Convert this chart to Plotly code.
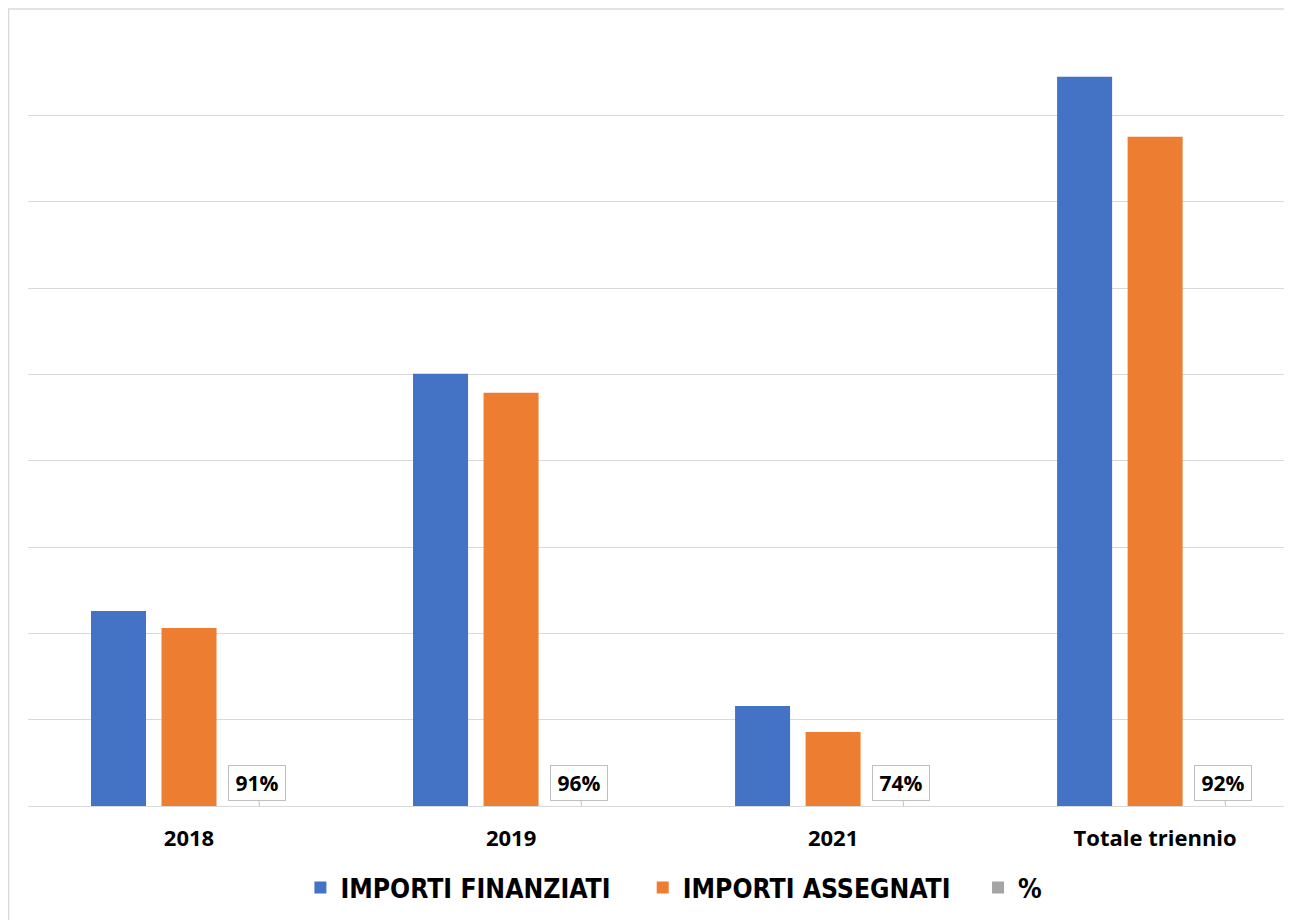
import plotly.graph_objects as go

categories = ["2018", "2019", "2021", "Totale triennio"]
importi_finanziati = [226000, 500600, 115900, 844700]
importi_assegnati = [206300, 478600, 85700, 775200]
percentuali = [0.91, 0.96, 0.74, 0.92]
series_names = ["IMPORTI FINANZIATI", "IMPORTI ASSEGNATI", "%"]
colors = ["#4472C4", "#ED7D31", "#A5A5A5"]

# page body has an 8px margin, so the figure is offset by 8px
W, H = 1284, 912
ML, MR, MT, MB = 20, 0, 21, 114
x_range = [-0.5, 3.425]
bargap = 0.343
bargroupgap = 0.22

plot_w = W - ML - MR
plot_h = H - MT - MB
cat_px = plot_w / (x_range[1] - x_range[0])
slot_px = cat_px * (1 - bargap) / 3

pads = ["\u00a0" * 3 + "\u2009", "\u00a0" * 3, ""]
fig = go.Figure()
for name, vals, col, pad in zip(series_names, [importi_finanziati, importi_assegnati, percentuali], colors, pads):
    fig.add_trace(go.Bar(x=categories, y=vals, name=f"<b>{name}</b>{pad}",
                         marker=dict(color=col, line=dict(width=0))))

for i, (c, p) in enumerate(zip(categories, percentuali)):
    fig.add_annotation(
        x=i, y=p, xref="x", yref="y",
        text=f"<b>{round(p * 100)}%</b>",
        showarrow=True, arrowhead=0, arrowwidth=1, arrowcolor="#bfbfbf",
        ax=-3, ay=-23, standoff=0,
        xshift=slot_px,
        font=dict(family="Open Sans", size=21, color="#000000"),
        bgcolor="#ffffff", bordercolor="#bfbfbf", borderwidth=1, borderpad=3,
        width=50,
    )

fig.add_shape(type="rect", xref="paper", yref="paper",
              x0=-ML / plot_w + 0.5 / plot_w, x1=1.05, y0=-0.3, y1=(plot_h + MT - 1) / plot_h,
              line=dict(color="#d9d9d9", width=1.5), fillcolor="rgba(0,0,0,0)", layer="below")

fig.update_layout(
    width=W, height=H,
    margin=dict(l=ML, r=MR, t=MT, b=MB),
    paper_bgcolor="#ffffff", plot_bgcolor="#ffffff",
    barmode="group", bargap=bargap, bargroupgap=bargroupgap,
    showlegend=True,
    legend=dict(orientation="h", x=0.511, xanchor="center", y=-0.1055, yanchor="middle",
                font=dict(family="Liberation Sans Narrow, DejaVu Sans Condensed, Arial Narrow, sans-serif",
                          size=26.3, color="#000000"),
                itemclick=False),
    xaxis=dict(type="category", range=x_range, showgrid=False, zeroline=False,
               showline=True, linecolor="#d9d9d9", linewidth=1,
               ticks="outside", ticklen=13, tickcolor="rgba(0,0,0,0)",
               tickfont=dict(family="Open Sans", size=22, color="#000000"),
               tickprefix="<b>", ticksuffix="</b>"),
    yaxis=dict(range=[0, 900000], dtick=100000, showgrid=True, gridcolor="#d9d9d9", gridwidth=1,
               showticklabels=False, zeroline=False, ticks=""),
)

fig.write_html("out.html")
